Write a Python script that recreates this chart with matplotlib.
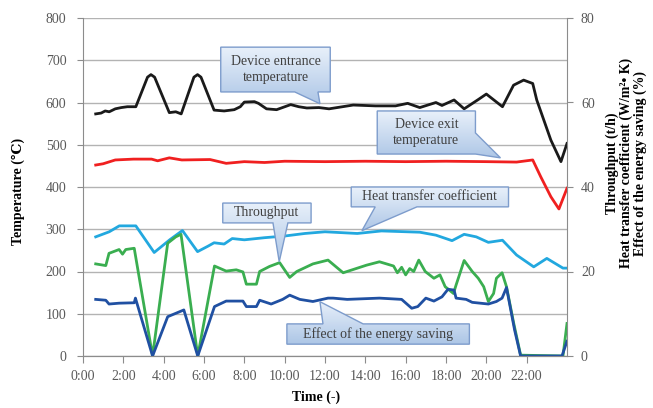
import matplotlib
matplotlib.use("Agg")
import matplotlib.pyplot as plt
import numpy as np
from matplotlib.path import Path
from matplotlib.patches import PathPatch
from matplotlib.colors import LinearSegmentedColormap

plt.rcParams['font.family'] = ['Liberation Serif', 'DejaVu Serif', 'DejaVu Sans']

# axis ticks
hour_ticks = [0, 2, 4, 6, 8, 10, 12, 14, 16, 18, 20, 22]
hour_labels = ['0:00', '2:00', '4:00', '6:00', '8:00', '10:00', '12:00',
               '14:00', '16:00', '18:00', '20:00', '22:00']
temp_ticks = [0, 100, 200, 300, 400, 500, 600, 700, 800]
right_ticks = [0, 20, 40, 60, 80]

# device entrance temperature (C), left axis
ent_h = [0.63, 0.9, 1.1, 1.3, 1.6, 1.9, 2.2, 2.62, 3.2, 3.37, 3.55, 4.28, 4.6,
         4.87, 5.5, 5.68, 5.85, 6.5, 7.0, 7.5, 7.8, 8.0, 8.5, 8.7, 9.1, 9.6,
         10.3, 10.7, 11.1, 11.7, 12.2, 13.4, 14.5, 15.5, 16.1, 16.7, 17.5,
         17.8, 18.4, 18.9, 19.6, 20.0, 20.8, 21.35, 21.85, 22.3, 22.5, 23.2,
         23.7, 24.0]
ent_v = [573, 575, 580, 578, 585, 588, 590, 590, 660, 666, 660, 576, 578,
         573, 660, 666, 660, 582, 580, 583, 590, 601, 602, 598, 585, 583,
         595, 590, 587, 588, 585, 594, 592, 592, 598, 588, 600,
         593, 606, 585, 607, 620, 590, 641, 653, 645, 606, 511,
         460, 503]

# device exit temperature (C), left axis
exit_h = [0.63, 1.0, 1.6, 2.5, 3.4, 3.7, 4.28, 4.9, 6.3, 7.1, 8.0, 9.0, 10.0,
          12, 14, 16, 18, 20, 21.5, 22.3, 22.7, 23.2, 23.6, 24.0]
exit_v = [452, 455, 464, 466, 466, 462, 469, 464, 465, 456, 460, 458, 461,
          460, 461, 460, 461, 460, 459, 464, 424, 377, 348, 397]

# heat transfer coefficient, right axis
htc_h = [0.63, 1.3, 1.8, 2.62, 3.53, 4.3, 4.93, 5.68, 6.2, 6.5, 7.0, 7.4, 8.0,
         9.0, 10.0, 11.0, 12.0, 13.6, 14.8, 16.7, 17.5, 18.3, 18.9, 19.5,
         20.1, 20.8, 21.5, 22.35, 23.0, 23.8, 24.0]
htc_v = [28.2, 29.4, 30.8, 30.8, 24.5, 27.5, 29.7, 24.7, 26.0, 26.8, 26.5,
         27.8, 27.5, 28.0, 28.4, 29.0, 29.4, 29.0, 29.6, 29.3, 28.6, 27.3,
         28.8, 28.2, 26.9, 27.4, 23.9, 21.1, 23.1, 20.8, 20.8]

# throughput (t/h), right axis
thr_h = [0.63, 1.13, 1.29, 1.79, 1.96, 2.12, 2.54, 3.45, 4.2, 4.6, 4.86, 5.69,
         6.52, 7.1, 7.6, 7.93, 8.1, 8.6, 8.76, 9.25, 9.75, 10.25, 10.6, 11.4,
         12.15, 12.9, 14.06, 14.7, 15.4, 15.59, 15.8, 16.0, 16.2, 16.4, 16.65,
         16.97, 17.4, 17.7, 17.96, 18.37, 18.5, 18.9, 19.3, 19.6, 19.87, 20.1,
         20.36, 20.5, 20.78, 21.0, 21.36, 21.7, 23.8, 24.0]
thr_v = [21.8, 21.4, 24.3, 25.2, 24.1, 25.2, 25.5, 0, 26.7, 28.2, 28.8, 0,
         21.3, 20.1, 20.4, 19.9, 17.0, 17.0, 20.0, 21.2, 22.1, 18.6, 20.0, 21.8,
         22.7, 19.7, 21.5, 22.3, 21.3, 19.7, 21.0, 19.2, 20.7, 20.0, 22.7,
         20.0, 18.4, 19.2, 16.4, 14.8, 16.8, 22.6, 20.0, 18.4, 16.4, 12.9,
         14.8, 18.4, 19.7, 16.4, 7.7, 0.2, 0, 7.7]

# effect of the energy saving (%), right axis
sav_h = [0.63, 1.13, 1.29, 1.79, 2.54, 2.6, 3.45, 4.2, 5.0, 5.69, 6.52, 7.1,
         7.93, 8.1, 8.6, 8.76, 9.33, 9.9, 10.25, 10.75, 11.4, 12.15, 12.4,
         13.1, 14.7, 15.8, 16.3, 16.6, 17.0, 17.4, 17.8, 18.1, 18.4, 18.5,
         19.0, 19.3, 20.1, 20.5, 20.78, 21.0, 21.4, 21.7, 23.75, 24.0]
sav_v = [13.4, 13.2, 12.3, 12.5, 12.6, 13.7, 0, 9.3, 10.9, 0, 11.7, 13.0,
         13.0, 11.7, 11.7, 13.2, 12.3, 13.4, 14.4, 13.4, 12.9, 13.7, 13.7,
         13.4, 13.7, 13.4, 11.3, 11.7, 13.7, 13.0, 14.0, 15.8, 15.6, 13.7,
         13.4, 12.7, 12.3, 12.9, 13.7, 16.2, 6.2, 0, 0, 3.5]

grid_c = '#b3b3b3'
axis_c = '#8c8c8c'
tick_txt = '#595959'

fig = plt.figure(figsize=(6.53, 4.08), dpi=100)
ax = fig.add_axes([83 / 653, 52 / 408, 484 / 653, 338 / 408])
ax2 = ax.twinx()

ax.plot(ent_h, ent_v, color='#1a1a1a', lw=2.0)
ax.plot(exit_h, exit_v, color='#f02020', lw=2.0)
ax2.plot(htc_h, htc_v, color='#22a8df', lw=2.0)
ax2.plot(thr_h, thr_v, color='#3aae50', lw=2.0)
ax2.plot(sav_h, sav_v, color='#2050a2', lw=2.0)

ax.yaxis.grid(True, color=grid_c, lw=1)
ax.set_axisbelow(True)
for a in (ax, ax2):
    a.spines['top'].set_visible(False)
    for s in a.spines.values():
        s.set_color(axis_c)
ax.spines['right'].set_visible(False)
ax2.spines['left'].set_visible(False)

ax.set_xticks(hour_ticks)
ax.set_xticklabels(hour_labels)
ax.set_yticks(temp_ticks)
ax2.set_yticks(right_ticks)
ax.tick_params(axis='y', length=4, color=axis_c, labelcolor=tick_txt,
               labelsize=10, pad=8)
ax.tick_params(axis='x', length=5, color=axis_c, labelcolor=tick_txt,
               labelsize=10, pad=5)
ax2.tick_params(axis='y', length=4, color=axis_c, labelcolor=tick_txt,
                labelsize=10, pad=6)

# callout boxes (in right-axis units)
cmap = LinearSegmentedColormap.from_list('cb', ['#e8f0fa', '#adc6e6'])
grad = np.linspace(0, 1, 64).reshape(-1, 1)


def callout(a, box, side, base, tip, text):
    x0, x1, y0, y1 = box
    if side == 'bottom':
        verts = [(x0, y1), (x1, y1), (x1, y0), (base[1], y0), tip,
                 (base[0], y0), (x0, y0), (x0, y1)]
    elif side == 'top':
        verts = [(x0, y1), (base[0], y1), tip, (base[1], y1), (x1, y1),
                 (x1, y0), (x0, y0), (x0, y1)]
    else:
        verts = [(x0, y1), (x1, y1), (x1, base[1]), tip, (x1, base[0]),
                 (x1, y0), (x0, y0), (x0, y1)]
    patch = PathPatch(Path(verts, closed=True), fc='none', ec='#7d9ccc',
                      lw=1, zorder=6)
    a.add_patch(patch)
    xs = [v[0] for v in verts]
    ys = [v[1] for v in verts]
    im = a.imshow(grad, extent=(min(xs), max(xs), min(ys), max(ys)),
                  cmap=cmap, aspect='auto', origin='upper', zorder=5)
    im.set_clip_path(patch)
    a.text((x0 + x1) / 2, (y0 + y1) / 2, text, ha='center', va='center',
           fontsize=10, color='#404040', zorder=7, linespacing=1.25)


callout(ax2, (6.83, 12.26, 62.5, 73.1), 'bottom', (10.5, 11.65), (11.75, 59.7),
        'Device entrance\ntemperature')
callout(ax2, (14.59, 19.46, 47.8, 58.0), 'right', (47.8, 52.8), (20.7, 46.9),
        'Device exit\ntemperature')
callout(ax2, (13.30, 21.1, 35.3, 40.0), 'bottom', (14.49, 16.56), (13.83, 29.66),
        'Heat transfer coefficient')
callout(ax2, (6.93, 11.31, 31.5, 36.2), 'bottom', (9.42, 10.16), (9.73, 22.3),
        'Throughput')
callout(ax2, (10.11, 19.16, 2.8, 7.6), 'top', (11.9, 13.89), (11.75, 12.85),
        'Effect of the energy saving')

ax.set_xlim(0, 24)
ax.set_ylim(0, 800)
ax2.set_ylim(0, 80)

fig.text(18 / 653, 1 - 191 / 408, 'Temperature (\u2103)', rotation=90,
         ha='center', va='center', fontsize=10, fontweight='bold')
fig.text(316 / 653, 1 - 397 / 408, 'Time (-)', ha='center', va='center',
         fontsize=10, fontweight='bold')
fig.text(626 / 653, 1 - 163 / 408,
         'Throughput (t/h)\nHeat transfer coefficient (W/m\u00b2\u2022 K)\n'
         'Effect of the energy saving (%)',
         rotation=90, ha='center', va='center', multialignment='center',
         fontsize=10, fontweight='bold', linespacing=1.05)

fig.savefig('out.png', dpi=100)
